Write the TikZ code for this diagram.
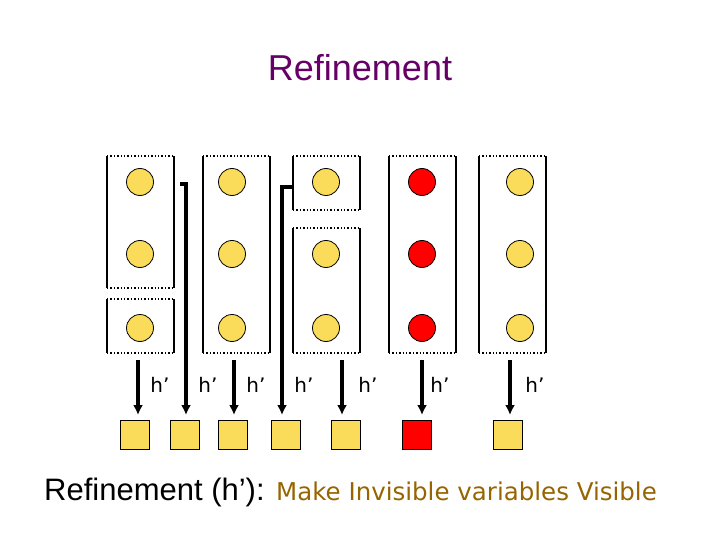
\documentclass[tikz,border=0pt]{standalone}
\usepackage{fontspec}
\setmainfont{Liberation Sans}
\newfontfamily\tah{DejaVu Sans}
\usetikzlibrary{arrows.meta}
\definecolor{yel}{RGB}{250,220,90}
\definecolor{ttl}{RGB}{102,0,102}
\definecolor{brn}{RGB}{150,100,0}
\tikzset{
 ball/.style={circle,draw,line width=0.8pt,fill=yel,minimum size=27pt,inner sep=0pt},
 rball/.style={ball,fill=red},
 sq/.style={draw,line width=0.8pt,fill=yel,minimum size=29pt,inner sep=0pt},
 rsq/.style={sq,fill=red},
 arr/.style={line width=3.2pt,-{Latex[length=10pt,width=10pt]}},
 lab/.style={font=\tah\fontsize{20}{20}\selectfont}
}
\newcommand{\grpbox}[4]{% x1 y1 x2 y2
 \draw[line width=1.6pt] (#1,#2)--(#1,#4) (#3,#2)--(#3,#4);
 \draw[line width=1.4pt,dotted] (#1,#2)--(#3,#2) (#1,#4)--(#3,#4);}
\begin{document}
\begin{tikzpicture}[x=1pt,y=-1pt]
\useasboundingbox (0,0) rectangle (720,540);
\node[ttl,font=\fontsize{36}{36}\selectfont] (title) at (360,68) {Refinement};
\grpbox{107}{156}{174}{288}
\grpbox{107}{299}{174}{353}
\grpbox{203}{156}{270}{353}
\grpbox{293}{156}{360}{210}
\grpbox{293}{228}{360}{353}
\grpbox{389}{156}{456}{353}
\grpbox{479}{156}{546}{353}
\foreach \x/\n in {140/a,232/b,326/c,520/e}{
 \node[ball] (\n1) at (\x,182) {};
 \node[ball] (\n2) at (\x,254) {};
 \node[ball] (\n3) at (\x,328) {};}
\node[rball] (d1) at (422,182) {};
\node[rball] (d2) at (422,254) {};
\node[rball] (d3) at (422,328) {};
\node[sq] (s1) at (135,435) {};
\node[sq] (s2) at (185,435) {};
\node[sq] (s3) at (233,435) {};
\node[sq] (s4) at (286,435) {};
\node[sq] (s5) at (346,435) {};
\node[rsq] (s6) at (417,435) {};
\node[sq] (s7) at (508,435) {};
\coordinate (t1) at (138,360);
\coordinate (t2) at (180,184);
\coordinate (t3) at (234,360);
\coordinate (t4) at (293,187);
\coordinate (t5) at (342,360);
\coordinate (t6) at (422,360);
\coordinate (t7) at (510,360);
\draw[arr] (t1) -- (138,415);
\draw[arr] (t2) -- (186,184) -- (186,415);
\draw[arr] (t3) -- (234,415);
\draw[arr] (t4) -- (282,187) -- (282,415);
\draw[arr] (t5) -- (342,415);
\draw[arr] (t6) -- (422,415);
\draw[arr] (t7) -- (510,415);
\foreach \x/\n in {160/1,208/2,256/3,304/4,368/5,440/6,535/7}
 \node[lab] (h\n) at (\x,385) {h’};
\node[anchor=west,inner sep=0pt] (bt) at (44,492) {\fontsize{31}{31}\selectfont Refinement (h’): \textcolor{brn}{\tah\fontsize{24.5}{24.5}\selectfont Make Invisible variables Visible}};
\end{tikzpicture}
\end{document}
